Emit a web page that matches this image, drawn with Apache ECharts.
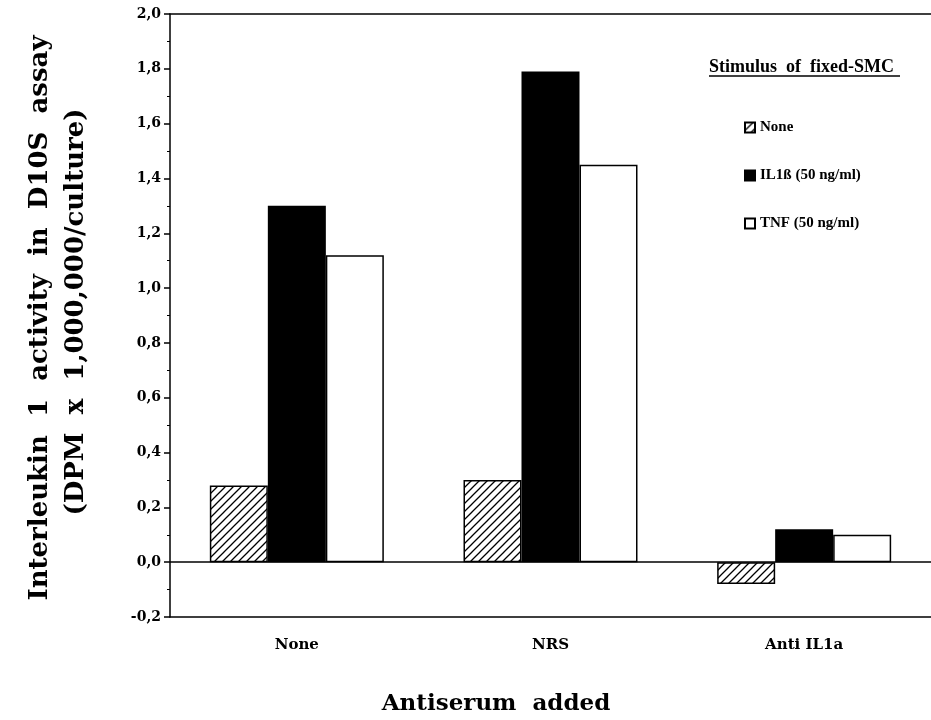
<!DOCTYPE html>
<html><head><meta charset="utf-8">
<script src="https://cdn.jsdelivr.net/npm/echarts@6/dist/echarts.min.js"></script>
<style>html,body{margin:0;padding:0;background:#fff}#c{width:931px;height:720px}</style>
</head><body><div id="c"></div>
<script>
const categories = ['None', 'NRS', 'Anti IL1a'];
const seriesNames = ['None', 'IL1ß (50 ng/ml)', 'TNF (50 ng/ml)'];
const valuesNone = [0.28, 0.30, -0.08];
const valuesIL1 = [1.30, 1.79, 0.12];
const valuesTNF = [1.12, 1.45, 0.10];
const yTicks = {min: -0.2, max: 2.0, interval: 0.2};

const F = '"DejaVu Serif", "Liberation Serif", serif';
const T = '"Liberation Serif", "DejaVu Serif", serif';

function hatch() {
  const c = document.createElement('canvas');
  c.width = 8; c.height = 8;
  const g = c.getContext('2d');
  g.fillStyle = '#fff'; g.fillRect(0, 0, 8, 8);
  g.strokeStyle = '#000'; g.lineWidth = 1.3;
  g.beginPath();
  g.moveTo(0, 8); g.lineTo(8, 0);
  g.moveTo(-4, 4); g.lineTo(4, -4);
  g.moveTo(4, 12); g.lineTo(12, 4);
  g.stroke();
  return c;
}
const hatchPattern = {image: hatch(), repeat: 'repeat'};

const chart = echarts.init(document.getElementById('c'));
chart.setOption({
  animation: false,
  backgroundColor: '#fff',
  grid: {left: 170, top: 14, right: -4, bottom: 103},
  legend: {
    orient: 'vertical', left: 739, top: 115,
    itemWidth: 10, itemHeight: 10, itemGap: 33,
    icon: 'rect',
    data: seriesNames,
    textStyle: {fontFamily: T, fontWeight: 'bold', fontSize: 15, color: '#000'}
  },
  xAxis: [{
    type: 'category', data: categories, position: 'bottom',
    axisLine: {onZero: false, lineStyle: {color: '#000', width: 1.5}},
    axisTick: {show: false},
    axisLabel: {margin: 21, fontFamily: F, fontWeight: 'bold', fontSize: 15, color: '#000'}
  }, {
    type: 'category', data: categories, position: 'top',
    axisLine: {onZero: false, lineStyle: {color: '#000', width: 1.5}},
    axisTick: {show: false}, axisLabel: {show: false}
  }],
  yAxis: {
    type: 'value', min: yTicks.min, max: yTicks.max, interval: yTicks.interval,
    axisLine: {show: true, lineStyle: {color: '#000', width: 1.5}},
    axisTick: {show: true, length: 6, lineStyle: {color: '#000', width: 1.5}},
    minorTick: {show: true, splitNumber: 2, length: 3, lineStyle: {color: '#000'}},
    splitLine: {show: false},
    axisLabel: {
      fontFamily: F, fontWeight: 'bold', fontSize: 14, color: '#000', margin: 9,
      formatter: v => v.toFixed(1).replace('.', ',')
    }
  },
  series: [{
    name: seriesNames[0], type: 'bar', data: valuesNone,
    barWidth: 58, barGap: '0%',
    itemStyle: {color: hatchPattern, borderColor: '#000', borderWidth: 1.5},
    markLine: {
      silent: true, symbol: 'none', label: {show: false},
      lineStyle: {color: '#000', width: 1.5, type: 'solid'},
      data: [{yAxis: 0}]
    }
  }, {
    name: seriesNames[1], type: 'bar', data: valuesIL1,
    barWidth: 58, barGap: '0%',
    itemStyle: {color: '#000', borderColor: '#000', borderWidth: 1.5}
  }, {
    name: seriesNames[2], type: 'bar', data: valuesTNF,
    barWidth: 58, barGap: '0%',
    itemStyle: {color: '#fff', borderColor: '#000', borderWidth: 1.5}
  }],
  graphic: [{
    type: 'text', left: 709, top: 58,
    style: {text: 'Stimulus  of  fixed-SMC', font: 'bold 18px ' + T, fill: '#000'}
  }, {
    type: 'line', shape: {x1: 709, y1: 76, x2: 900, y2: 76},
    style: {stroke: '#000', lineWidth: 1.5}
  }, {
    type: 'text', x: 40, y: 318, rotation: Math.PI / 2,
    style: {text: 'Interleukin  1  activity  in  D10S  assay', font: 'bold 26px ' + F,
      fill: '#000', align: 'center', verticalAlign: 'middle'}
  }, {
    type: 'text', x: 76, y: 312, rotation: Math.PI / 2,
    style: {text: '(DPM  x  1,000,000/culture)', font: 'bold 26px ' + F,
      fill: '#000', align: 'center', verticalAlign: 'middle'}
  }, {
    type: 'text', x: 496, y: 704,
    style: {text: 'Antiserum  added', font: 'bold 23px ' + F,
      fill: '#000', align: 'center', verticalAlign: 'middle'}
  }]
});
</script></body></html>
